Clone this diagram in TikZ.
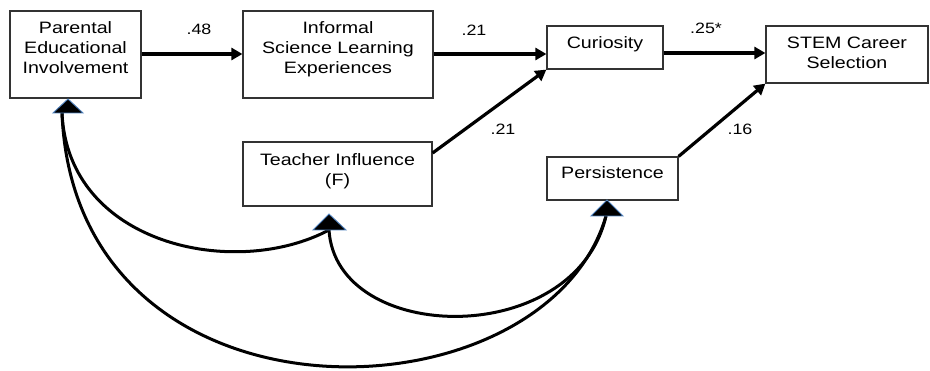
\documentclass[tikz,border=0pt]{standalone}
\usepackage{fontspec}
\setmainfont{Liberation Sans}[FakeStretch=1.19]
\usetikzlibrary{arrows.meta}
\definecolor{tribord}{HTML}{4F81BD}
\tikzset{
  box/.style={draw=black!80, line width=1.2pt, fill=white, align=center, inner sep=0pt,
    font=\fontsize{16.5}{20}\selectfont},
  path/.style={line width=3.2pt, -{Triangle[length=11pt,width=12pt]}},
  cov/.style={line width=3pt},
  coef/.style={font=\fontsize{15}{18}\selectfont, inner sep=0pt},
  tri/.style={fill=black, draw=tribord, line width=0.9pt, line join=miter}
}
\begin{document}
\begin{tikzpicture}[x=1pt,y=-1pt]
\useasboundingbox (0,0) rectangle (930,371);
\node[box, minimum width=131pt, minimum height=87pt, text depth=14pt] (pei) at (75.5,54.5) {Parental\\Educational\\Involvement};
\node[box, minimum width=190pt, minimum height=87pt, text depth=14pt] (isl) at (338,54.5) {Informal\\Science Learning\\Experiences};
\node[box, minimum width=116pt, minimum height=43pt, text depth=9pt] (cur) at (605,47.5) {Curiosity};
\node[box, minimum width=162pt, minimum height=57pt, text depth=4pt] (stem) at (847,54.5) {STEM Career\\Selection};
\node[box, minimum width=189pt, minimum height=64pt, text depth=8pt] (tea) at (337.5,174) {Teacher Influence\\(F)};
\node[box, minimum width=131pt, minimum height=43pt, text depth=12pt] (per) at (612.5,178.5) {Persistence};

% paths
\draw[path] (pei.east |- 0,54) -- (isl.west |- 0,54);
\draw[path] (isl.east |- 0,54) -- (cur.west |- 0,54);
\draw[path] (cur.east |- 0,53) -- (stem.west |- 0,53);
\draw[path] (tea.east |- 0,153) -- (cur.south west);
\draw[path] (per.north east) -- (stem.south west);

% coefficients
\node[coef] (c1) at (199,29) {.48};
\node[coef] (c2) at (474,30) {.21};
\node[coef] (c3) at (706,28) {.25*};
\node[coef] (c4) at (503,129) {.21};
\node[coef] (c5) at (740,129) {.16};

% covariance ends
\coordinate (ap) at (62,113);
\coordinate (at) at (329,230);
\coordinate (as) at (606,216);

\draw[cov] (ap) .. controls (68,245) and (235,280) .. (at);
\draw[cov] (ap) .. controls (75,440) and (545,425) .. (as);
\draw[cov] (at) .. controls (336,345) and (575,350) .. (as);

% triangles
\draw[tri] (53,113) -- (68,99) -- (83,113) -- cycle;
\draw[tri] (313,230) -- (329,214) -- (346,230) -- cycle;
\draw[tri] (591,216) -- (607,200) -- (623,216) -- cycle;
\end{tikzpicture}
\end{document}
